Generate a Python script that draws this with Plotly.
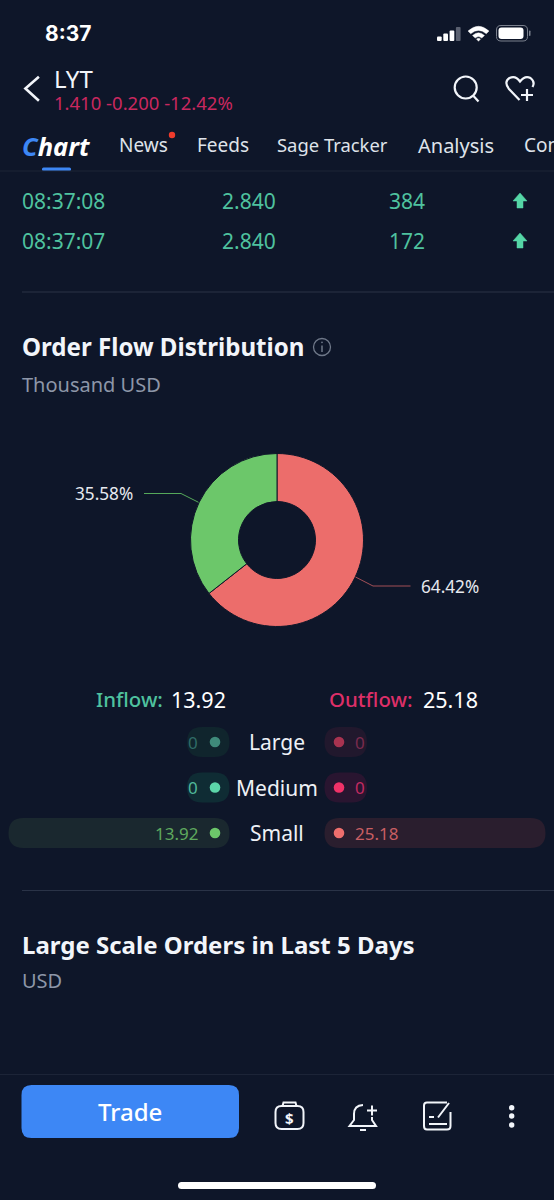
import plotly.graph_objects as go

# order flow values (thousand USD)
flow_labels = ['Outflow', 'Inflow']
flow_values = [25.18, 13.92]
flow_percent_text = ['64.42%', '35.58%']
size_names = ['Large', 'Medium', 'Small']
inflow_by_size = [0, 0, 13.92]
outflow_by_size = [0, 0, 25.18]
inflow_total = '13.92'
outflow_total = '25.18'

# ticker rows above the chart
tick_times = ['08:37:08', '08:37:07']
tick_prices = ['2.840', '2.840']
tick_volumes = ['384', '172']
tab_names = ['News', 'Feeds', 'Sage Tracker', 'Analysis', 'Con']

BG = '#0e1629'
WHITE = '#f2f5fa'
GREY = '#8d96a8'
TEAL = '#4fc29f'
FONT = 'Noto Sans'

shapes = []
annotations = []


def txt(x, y, text, size, color=WHITE, anchor='left', weight=400, family=FONT):
    annotations.append(dict(x=x, y=y-0.8, xref='x', yref='y', text=text, showarrow=False,
                            xanchor=anchor, yanchor='middle', borderpad=0, borderwidth=0,
                            font=dict(family=family, size=size, color=color, weight=weight)))


def path(d, line=WHITE, width=2.0, fill=None):
    shapes.append(dict(type='path', path=d, xref='x', yref='y', layer='above',
                       fillcolor=fill if fill else 'rgba(0,0,0,0)',
                       line=dict(color=line, width=width)))


def rrect(x0, y0, x1, y1, r, fill, line=None, width=0):
    d = (f'M{x0+r},{y0} L{x1-r},{y0} Q{x1},{y0} {x1},{y0+r} L{x1},{y1-r} Q{x1},{y1} {x1-r},{y1} '
         f'L{x0+r},{y1} Q{x0},{y1} {x0},{y1-r} L{x0},{y0+r} Q{x0},{y0} {x0+r},{y0} Z')
    shapes.append(dict(type='path', path=d, xref='x', yref='y', layer='above', fillcolor=fill,
                       line=dict(color=line if line else 'rgba(0,0,0,0)', width=width)))


def circle(cx, cy, r, fill=None, line=None, width=0):
    shapes.append(dict(type='circle', x0=cx-r, x1=cx+r, y0=cy-r, y1=cy+r, xref='x', yref='y',
                       layer='above', fillcolor=fill if fill else 'rgba(0,0,0,0)',
                       line=dict(color=line if line else 'rgba(0,0,0,0)', width=width)))


def hline(x0, x1, y, color='#2a3347', width=1):
    path(f'M{x0},{y} L{x1},{y}', line=color, width=width)


# status bar
txt(45, 34, '8:37', 21, '#ffffff', weight=700, family='Inter')
for i, (h, c) in enumerate(zip([4.5, 7.5, 10.5, 14], ['#ffffff', '#ffffff', '#ffffff', '#5a6070'])):
    rrect(437+i*6.3, 41-h, 441.7+i*6.3, 41, 1, c)
path('M468,31 Q478.5,21.5 489,31 L486.3,33.8 Q478.5,27 470.7,33.8 Z', line='#ffffff', width=0.4, fill='#ffffff')
path('M472.5,35.5 Q478.5,30 484.5,35.5 L481.8,38 Q478.5,35 475.2,38 Z', line='#ffffff', width=0.4, fill='#ffffff')
path('M476.5,39 Q478.5,37.5 480.5,39 L478.5,41.3 Z', line='#ffffff', width=0.4, fill='#ffffff')
rrect(496.5, 25.5, 527.5, 41, 4.5, 'rgba(0,0,0,0)', line='#7a808d', width=1)
rrect(498.5, 27.5, 523.5, 39, 3, '#ffffff')
rrect(529, 30.5, 530.5, 36, 0.7, '#7a808d')

# header
path('M38.9,76.7 L25.4,88.5 L38.9,100.7', width=2.6)
txt(54, 79.5, 'LYT', 24, WHITE)
txt(54, 103, '1.410 -0.200 -12.42%', 18.5, '#c9285f')
circle(465.7, 87.5, 11, line=WHITE, width=2.2)
path('M473.5,96 L478.5,101.5', width=2.2)
path('M519.5,100 L509,89 Q503.5,82 509.5,78 Q515.5,75 520,81.5 Q525,75 530.5,78 '
     'Q535.5,82 532.5,87', width=2.2)
path('M521,95 L533,95 M527,89 L527,101', width=2.2)

# tabs
txt(22, 146.5, '<b><i><span style="color:#3d87f5">C</span>hart</i></b>', 25.5, '#ffffff', weight=700)
for name, x, size, y in zip(tab_names, [119, 197, 277, 418, 524], [19, 19, 18.4, 20, 19],
                            [146, 146, 145.5, 146, 146]):
    txt(x, y, name, size, '#dfe3ea')
circle(172, 135, 3.2, fill='#ef3b2c')
rrect(42, 167.5, 71, 171, 1.5, '#3d87f5')
hline(0, 554, 171, color='#1c2437')

# ticker rows
for i, y in enumerate([201, 241]):
    txt(22, y+0.8, tick_times[i], 21, TEAL)
    txt(222, y+0.8, tick_prices[i], 21, TEAL)
    txt(389, y+0.8, tick_volumes[i], 21, TEAL)
    path(f'M520,{y-8} L527,{y} L523,{y} L523,{y+7} L517,{y+7} L517,{y} L513,{y} Z',
         line='#55d6a6', width=0.5, fill='#55d6a6')
hline(22, 554, 292)

# order flow section
txt(22, 347, 'Order Flow Distribution', 24.1, WHITE, weight=700)
circle(322, 347, 8.5, line='#6f7889', width=1.3)
path('M322,345.5 L322,352', line='#6f7889', width=1.5)
circle(322, 342.3, 0.9, fill='#6f7889')
txt(22, 385, 'Thousand USD', 20, GREY)

# leader lines and labels
path('M355.5,577 L373,586 L410.5,586', line='#a24f57', width=1)
path('M144,493.5 L181,493.5 L198.5,502.3', line='#55a85a', width=1)
txt(421, 587, flow_percent_text[0], 17.2, '#e6e9ef')
txt(132.5, 494, flow_percent_text[1], 17.2, '#e6e9ef', anchor='right')

# totals
txt(96, 700, 'Inflow:', 20.4, TEAL, weight=500)
txt(171, 700, inflow_total, 21.5, '#ffffff')
txt(329, 700, 'Outflow:', 20.4, '#dd2f68', weight=500)
txt(423, 700, outflow_total, 21.5, '#ffffff')

# size rows: pill stretches only when the value is non zero
rows_y = [742, 787.5, 833]
left_dot = ['#3f8a7a', '#5cd6a9', '#6cc76a']
left_text = ['#2f6b66', '#4fb79a', '#5fa85e']
left_pill = ['#10252d', '#0f2c34', '#1a282f']
right_dot = ['#a83350', '#f03268', '#ee6f6d']
right_text = ['#7a2b4e', '#c22a61', '#c85f63']
right_pill = ['#21182d', '#291530', '#2a1e2e']
for i, name in enumerate(size_names):
    y = rows_y[i]
    x_left = 8.5 if inflow_by_size[i] > 0 else 187
    x_right = 545.5 if outflow_by_size[i] > 0 else 367
    rrect(x_left, y-15, 229.5, y+15, 15, left_pill[i])
    rrect(324.5, y-15, x_right, y+15, 15, right_pill[i])
    circle(215, y, 5.3, fill=left_dot[i])
    circle(339, y, 5.3, fill=right_dot[i])
    txt(198, y+0.8, f'{inflow_by_size[i]:g}', 17, left_text[i], anchor='right')
    txt(355, y+0.8, f'{outflow_by_size[i]:g}', 17, right_text[i])
    txt(277, y+0.8, name, 21, '#eef1f6', anchor='center')
hline(22, 554, 890.5)

# next section
txt(22, 945, 'Large Scale Orders in Last 5 Days', 24, WHITE, weight=700)
txt(22, 981, 'USD', 20, GREY)

# bottom toolbar
hline(0, 554, 1074.5, color='#1c2437')
rrect(21.5, 1085, 239, 1138, 10, '#3d87f5')
txt(130, 1112, 'Trade', 24, '#ffffff', anchor='center', weight=500)
# bag
rrect(275.5, 1106, 303.5, 1129, 6, 'rgba(0,0,0,0)', line=WHITE, width=2)
path('M282.5,1106 L283.5,1102.5 L295.5,1102.5 L296.5,1106', width=2)
txt(289.5, 1118.5, '$', 15, WHITE, anchor='center', weight=700)
# bell
path('M363,1105 Q354,1105.5 354,1114 L354,1120 L349.5,1126 L376,1126 L372,1120 L372,1117', width=2)
path('M360,1130 L366,1130', width=2)
path('M367,1110.5 L377,1110.5 M372,1105.5 L372,1115.5', width=2)
# note
path('M447,1102.5 L427,1102.5 Q424,1102.5 424,1105.5 L424,1126 Q424,1129.5 427,1129.5 '
     'L447,1129.5 Q450.5,1129.5 450.5,1126 L450.5,1112', width=2)
path('M429,1117 L434,1117 M429,1124 L447,1124 M438,1117.5 L449,1103', width=2)
# more
for y in [1107.7, 1116, 1125]:
    circle(511.7, y, 2.7, fill=WHITE)
rrect(178, 1182, 376, 1189, 3.5, '#ffffff')

fig = go.Figure()
fig.add_trace(go.Pie(labels=flow_labels, values=flow_values, sort=False, direction='clockwise',
                     rotation=0, hole=0.445, textinfo='none', showlegend=False,
                     marker=dict(colors=['#ec6d6b', '#6cc76a'], line=dict(color=BG, width=1)),
                     domain=dict(x=[190.5/554, 363.5/554], y=[1-627/1200, 1-453/1200])))

fig.update_layout(
    width=554, height=1200,
    margin=dict(l=0, r=0, t=0, b=0),
    paper_bgcolor=BG, plot_bgcolor=BG,
    xaxis=dict(range=[0, 554], visible=False, domain=[0, 1], fixedrange=True),
    yaxis=dict(range=[1200, 0], visible=False, domain=[0, 1], fixedrange=True),
    shapes=shapes, annotations=annotations, showlegend=False
)

fig.write_html("out.html", config=dict(displayModeBar=False),
               post_script="document.body.style.margin='0';document.body.style.overflow='hidden';"
                           "document.body.style.background='#0e1629';")
